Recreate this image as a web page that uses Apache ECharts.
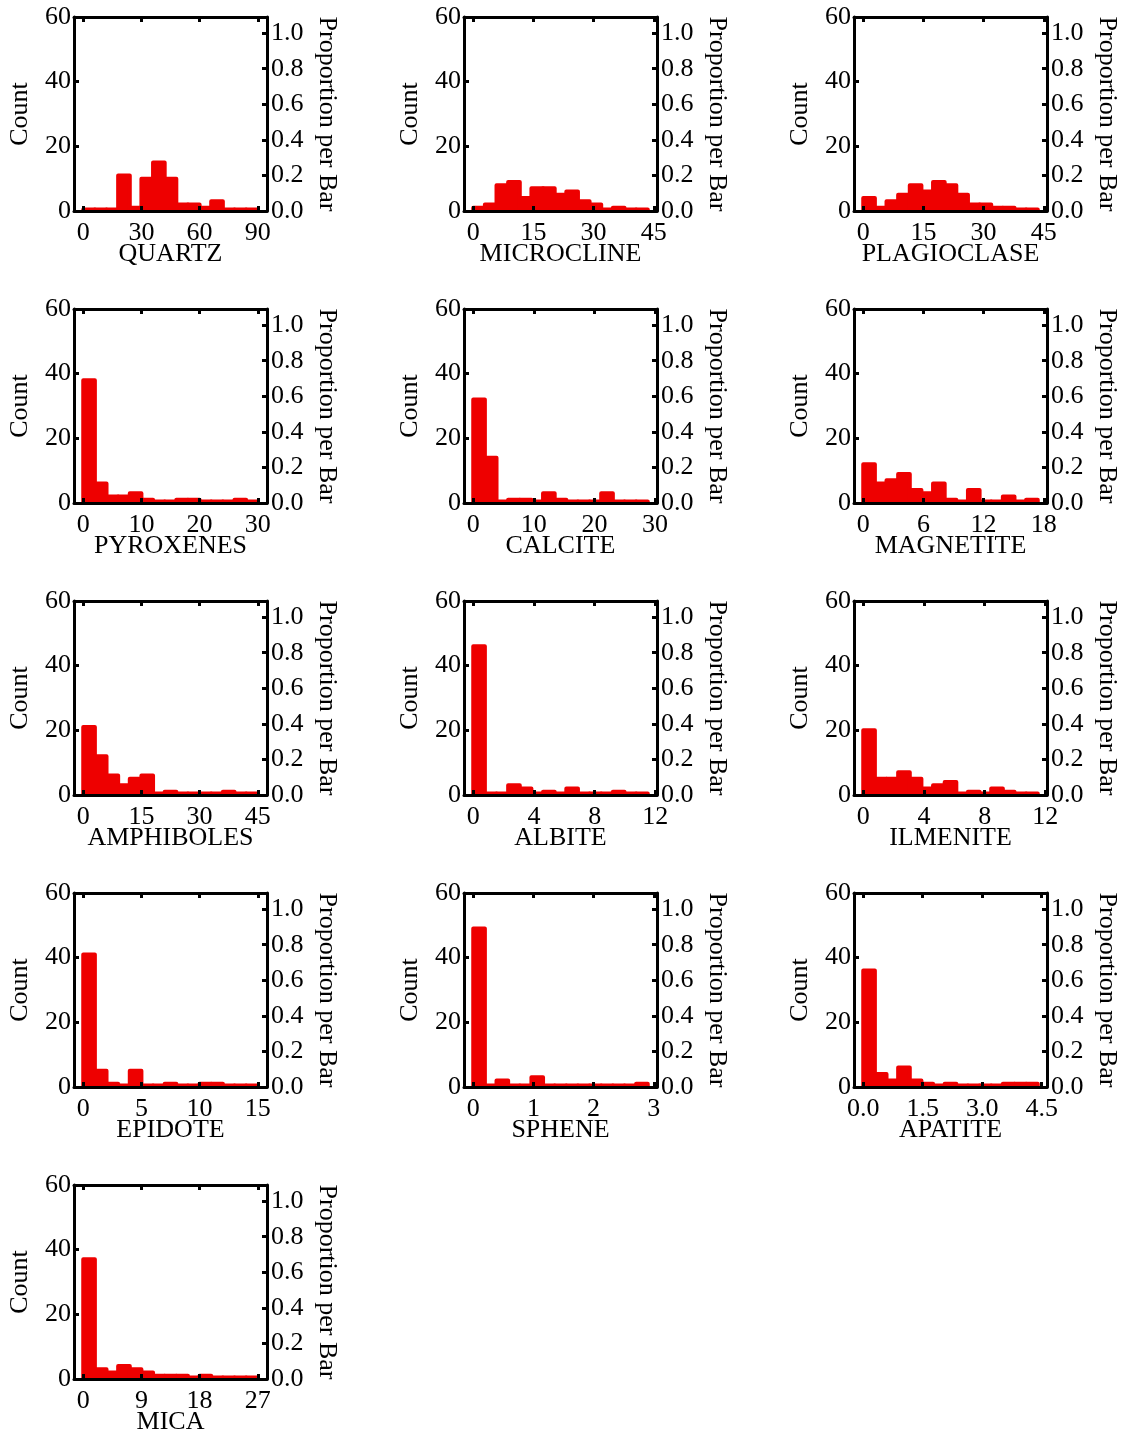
<!DOCTYPE html>
<html>
<head>
<meta charset="utf-8">
<script src="https://cdn.jsdelivr.net/npm/echarts@6/dist/echarts.min.js"></script>
<style>
  html, body { margin: 0; padding: 0; background: #fff; }
  #chart { width: 1127px; height: 1437px; }
</style>
</head>
<body>
<div id="chart"></div>
<script>
// Mineral abundance histograms: 15 equal bins per mineral, 55 samples.
const mineralNames = ['QUARTZ', 'MICROCLINE', 'PLAGIOCLASE', 'PYROXENES', 'CALCITE', 'MAGNETITE',
  'AMPHIBOLES', 'ALBITE', 'ILMENITE', 'EPIDOTE', 'SPHENE', 'APATITE', 'MICA'];

// upper end of each binned range (bins start at 0)
const binUpper = [90, 43.5, 43.5, 30, 28.8, 17.4, 45, 11.5, 11.5, 15, 2.9, 4.4, 27];

// x tick values per mineral
const xTickValues = [
  [0, 30, 60, 90], [0, 15, 30, 45], [0, 15, 30, 45],
  [0, 10, 20, 30], [0, 10, 20, 30], [0, 6, 12, 18],
  [0, 15, 30, 45], [0, 4, 8, 12], [0, 4, 8, 12],
  [0, 5, 10, 15], [0, 1, 2, 3], [0, 1.5, 3, 4.5],
  [0, 9, 18, 27]
];
const xTickDecimals = [0, 0, 0, 0, 0, 0, 0, 0, 0, 0, 0, 1, 0];

// bin counts
const quartzCounts      = [0, 0, 0, 11, 1, 10, 15, 10, 2, 2, 1, 3, 0, 0, 0];
const microclineCounts  = [1, 2, 8, 9, 4, 7, 7, 5, 6, 3, 2, 0, 1, 0, 0];
const plagioclaseCounts = [4, 1, 3, 5, 8, 6, 9, 8, 5, 2, 2, 1, 1, 0, 0];
const pyroxenesCounts   = [38, 6, 2, 2, 3, 1, 0, 0, 1, 1, 0, 0, 0, 1, 0];
const calciteCounts     = [32, 14, 0, 1, 1, 0, 3, 1, 0, 0, 0, 3, 0, 0, 0];
const magnetiteCounts   = [12, 6, 7, 9, 4, 3, 6, 1, 0, 4, 0, 0, 2, 0, 1];
const amphibolesCounts  = [21, 12, 6, 3, 5, 6, 0, 1, 0, 0, 0, 0, 1, 0, 0];
const albiteCounts      = [46, 0, 0, 3, 2, 0, 1, 0, 2, 0, 0, 0, 1, 0, 0];
const ilmeniteCounts    = [20, 5, 5, 7, 5, 2, 3, 4, 0, 1, 0, 2, 1, 0, 0];
const epidoteCounts     = [41, 5, 1, 0, 5, 0, 0, 1, 0, 0, 1, 1, 0, 0, 0];
const spheneCounts      = [49, 0, 2, 0, 0, 3, 0, 0, 0, 0, 0, 0, 0, 0, 1];
const apatiteCounts     = [36, 4, 2, 6, 2, 1, 0, 1, 0, 0, 0, 0, 1, 1, 1];
const micaCounts        = [37, 3, 2, 4, 3, 2, 1, 1, 1, 0, 1, 0, 0, 0, 0];

const allCounts = [quartzCounts, microclineCounts, plagioclaseCounts, pyroxenesCounts,
  calciteCounts, magnetiteCounts, amphibolesCounts, albiteCounts, ilmeniteCounts,
  epidoteCounts, spheneCounts, apatiteCounts, micaCounts];

const sampleTotal = 55;
const countTicks = [0, 20, 40, 60];
const proportionTicks = [0, 0.2, 0.4, 0.6, 0.8, 1.0];

// ---- layout ----
const FONT = { fontFamily: 'Liberation Serif', fontSize: 26, color: '#000' };
const LINE = { color: '#000', width: 3 };
const BAR_RED = '#ee0000';
const MIN_BAR_PX = 1.5;        // empty bins still show as a thin strip
const panelLeft = 74, panelTop = 17, colStep = 390, rowStep = 292;
const panelW = 193, panelH = 194;

const grids = [], xAxes = [], yAxes = [], series = [];

function renderBin(params, api) {
  const lo = api.coord([api.value(0), api.value(2)]);
  const hi = api.coord([api.value(1), 0]);
  const top = Math.min(lo[1], hi[1] - MIN_BAR_PX);
  return {
    type: 'rect',
    shape: { x: lo[0], y: top, width: hi[0] - lo[0], height: hi[1] - top },
    style: { fill: BAR_RED, stroke: BAR_RED, lineWidth: 4, lineJoin: 'round' }
  };
}

mineralNames.forEach((name, i) => {
  const row = Math.floor(i / 3), col = i % 3;
  grids.push({
    left: panelLeft + col * colStep, top: panelTop + row * rowStep,
    width: panelW, height: panelH, outerBoundsMode: 'none'
  });

  const upper = binUpper[i];
  const pad = upper * 0.053;
  const ticks = xTickValues[i];
  const dec = xTickDecimals[i];

  const xBase = {
    gridIndex: i, type: 'value', min: -pad, max: upper + pad, z: 5,
    axisLine: { show: true, onZero: false, lineStyle: LINE },
    axisTick: { show: true, inside: true, length: 5, lineStyle: LINE, customValues: ticks },
    splitLine: { show: false }
  };
  xAxes.push(Object.assign({}, xBase, {
    position: 'bottom',
    axisLabel: Object.assign({ customValues: ticks, margin: 9, formatter: v => Number(v).toFixed(dec) }, FONT),
    name: name, nameLocation: 'middle', nameGap: 30, nameMoveOverlap: false,
    nameTextStyle: Object.assign({}, FONT)
  }));
  xAxes.push(Object.assign({}, xBase, {
    position: 'top', axisLabel: { show: false }
  }));

  yAxes.push({
    gridIndex: i, type: 'value', position: 'left', min: 0, max: 60, interval: 20, z: 5,
    axisLine: { show: true, onZero: false, lineStyle: LINE },
    axisTick: { show: true, inside: true, length: 5, lineStyle: LINE, customValues: countTicks },
    axisLabel: Object.assign({ customValues: countTicks, margin: 3 }, FONT),
    splitLine: { show: false },
    name: 'Count', nameLocation: 'middle', nameGap: 41, nameRotate: 90, nameMoveOverlap: false,
    nameTextStyle: Object.assign({}, FONT)
  });
  yAxes.push({
    gridIndex: i, type: 'value', position: 'right', min: 0, max: 60 / sampleTotal, z: 5,
    axisLine: { show: true, onZero: false, lineStyle: LINE },
    axisTick: { show: true, inside: true, length: 5, lineStyle: LINE, customValues: proportionTicks },
    axisLabel: Object.assign({ customValues: proportionTicks, margin: 4, formatter: v => Number(v).toFixed(1) }, FONT),
    splitLine: { show: false },
    name: 'Proportion per Bar', nameLocation: 'middle', nameGap: 47, nameRotate: -90, nameMoveOverlap: false,
    nameTextStyle: Object.assign({}, FONT)
  });

  const width = upper / allCounts[i].length;
  series.push({
    type: 'custom',
    xAxisIndex: 2 * i, yAxisIndex: 2 * i,
    clip: true, z: 2,
    renderItem: renderBin,
    encode: { x: [0, 1], y: 2 },
    data: allCounts[i].map((n, k) => [k * width, (k + 1) * width, n])
  });
});

const chart = echarts.init(document.getElementById('chart'), null, { renderer: 'canvas' });
chart.setOption({
  backgroundColor: '#fff',
  animation: false,
  grid: grids,
  xAxis: xAxes,
  yAxis: yAxes,
  series: series
});
</script>
</body>
</html>
